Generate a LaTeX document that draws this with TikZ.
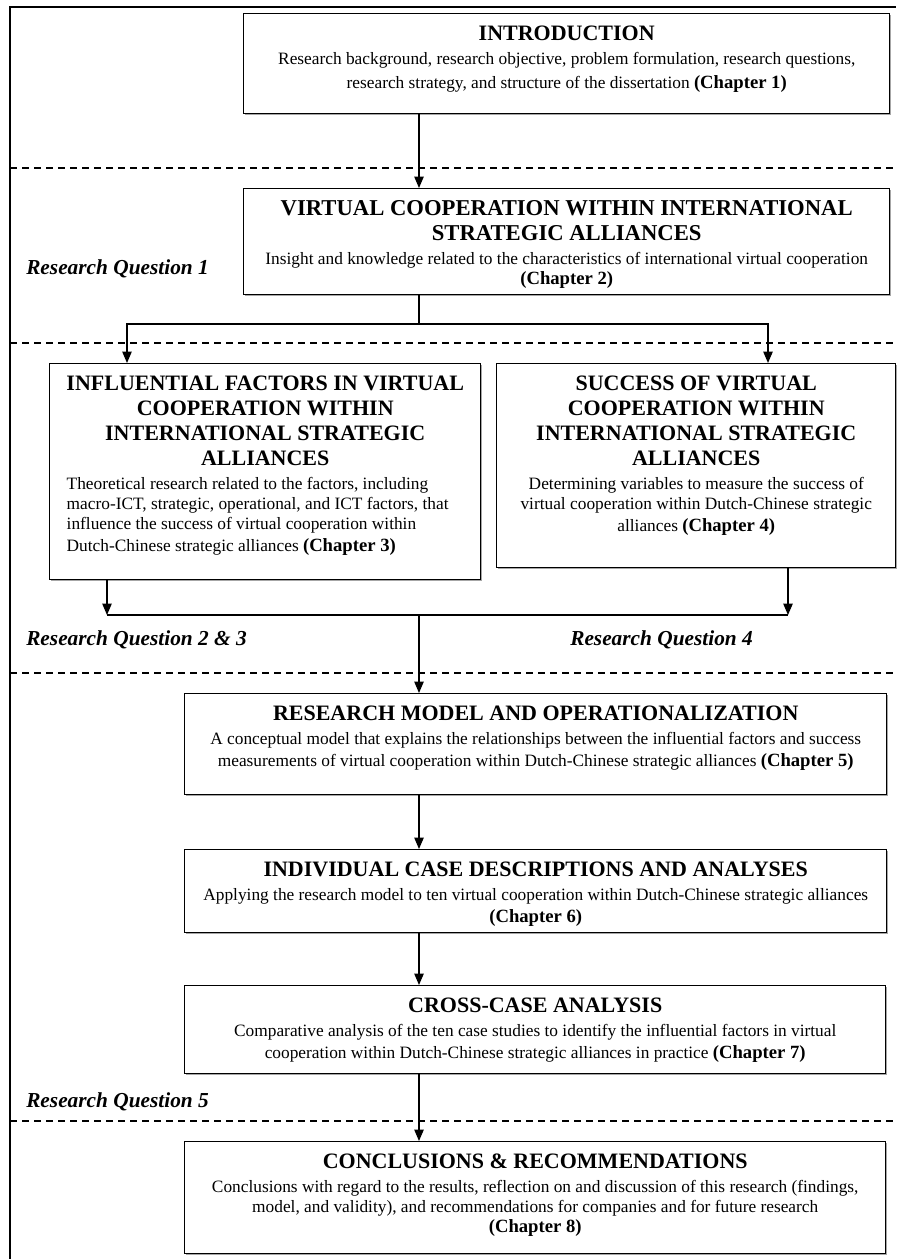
\documentclass[tikz,border=0pt]{standalone}
\usepackage{fontspec}
\setmainfont{Liberation Serif}
\usetikzlibrary{arrows.meta, shadows}

\newcommand{\ttl}{\fontsize{16.5}{18.75}\selectfont\bfseries}
\newcommand{\chap}[1]{{\fontsize{14}{15}\selectfont\bfseries #1}}
% box text sits at the top of a fixed size box
\newcommand{\stagetext}[3]{\begin{minipage}[c][#2][t]{#1}\centering\vspace*{9pt}#3\end{minipage}}

\begin{document}
\begin{tikzpicture}[
    x=0.75pt, y=-0.75pt,
    stage/.style={draw, fill=white, line width=1.1pt, inner sep=0pt, anchor=north west,
                  drop shadow={shadow xshift=1pt, shadow yshift=-1pt, fill=gray!70, opacity=1},
                  font=\fontsize{13}{15}\selectfont},
    arrow/.style={-{Triangle[length=8.5pt,width=7pt]}, line width=1pt},
    link/.style={line width=1pt},
    divider/.style={dash pattern=on 5.5pt off 3.5pt, line width=0.9pt},
    rq/.style={font=\fontsize{16}{18}\selectfont\bfseries\itshape, anchor=west, inner sep=0pt}
  ]
    \useasboundingbox (0,0) rectangle (896,1259);

    % frame and phase borders
    \draw[line width=1.1pt] (10,1259) -- (10,7) -- (896,7);
    \foreach \y in {168,343,673,1121}
      \draw[divider] (10,\y) -- (896,\y);

    \node[stage] (intro) at (243,13) {\stagetext{484.5pt}{75pt}{%
      {\ttl INTRODUCTION\par}\vspace{3pt}
      Research background, research objective, problem formulation, research questions,\\[3.5pt]
      research strategy, and structure of the dissertation \chap{(Chapter 1)}}};

    \node[stage] (virt) at (243,188) {\stagetext{484.5pt}{79.5pt}{%
      {\fontsize{17}{18.75}\selectfont\bfseries VIRTUAL COOPERATION WITHIN INTERNATIONAL\\ STRATEGIC ALLIANCES\par}\vspace{3pt}
      Insight and knowledge related to the characteristics of international virtual cooperation\\
      \chap{(Chapter 2)}}};

    \node[stage] (infl) at (49,363) {\stagetext{323.25pt}{162pt}{%
      {\ttl INFLUENTIAL FACTORS IN VIRTUAL\\ COOPERATION WITHIN\\ INTERNATIONAL STRATEGIC\\ ALLIANCES\par}\vspace{3pt}
      {\raggedright\leftskip=12.75pt
      Theoretical research related to the factors, including\\
      macro-ICT, strategic, operational, and ICT factors, that\\
      influence the success of virtual cooperation within\\[2pt]
      Dutch-Chinese strategic alliances \chap{(Chapter 3)}\par}}};

    \node[stage] (succ) at (496,363) {\stagetext{299.25pt}{153pt}{%
      {\ttl SUCCESS OF VIRTUAL\\ COOPERATION WITHIN\\ INTERNATIONAL STRATEGIC\\ ALLIANCES\par}\vspace{3pt}
      Determining variables to measure the success of\\
      virtual cooperation within Dutch-Chinese strategic\\[2pt]
      alliances \chap{(Chapter 4)}}};

    \node[stage] (model) at (184,693) {\stagetext{526.5pt}{75.75pt}{%
      {\ttl RESEARCH MODEL AND OPERATIONALIZATION\par}\vspace{3pt}
      A conceptual model that explains the relationships between the influential factors and success\\[2pt]
      measurements of virtual cooperation within Dutch-Chinese strategic alliances \chap{(Chapter 5)}}};

    \node[stage] (indiv) at (184,849) {\stagetext{526.5pt}{62.25pt}{%
      {\ttl INDIVIDUAL CASE DESCRIPTIONS AND ANALYSES\par}\vspace{3pt}
      Applying the research model to ten virtual cooperation within Dutch-Chinese strategic alliances\\[2pt]
      \chap{(Chapter 6)}}};

    \node[stage] (cross) at (184,985) {\stagetext{525.75pt}{66pt}{%
      {\ttl CROSS-CASE ANALYSIS\par}\vspace{3pt}
      Comparative analysis of the ten case studies to identify the influential factors in virtual\\[2pt]
      cooperation within Dutch-Chinese strategic alliances in practice \chap{(Chapter 7)}}};

    \node[stage] (concl) at (184,1141) {\stagetext{525.75pt}{84pt}{%
      {\ttl CONCLUSIONS \& RECOMMENDATIONS\par}\vspace{3pt}
      Conclusions with regard to the results, reflection on and discussion of this research (findings,\\
      model, and validity), and recommendations for companies and for future research\\
      \chap{(Chapter 8)}}};

    % research questions
    \node[rq] (rq1)  at (26,269)  {Research Question 1};
    \node[rq] (rq23) at (26,640)  {Research Question 2 \& 3};
    \node[rq] (rq4)  at (570,640) {Research Question 4};
    \node[rq] (rq5)  at (26,1102) {Research Question 5};

    % connectors
    \coordinate (spine) at (419,0);
    \coordinate (fork)  at (419,324);
    \coordinate (fl)    at (127,324);
    \coordinate (fr)    at (768,324);
    \coordinate (join)  at (419,615);
    \coordinate (jl)    at (107,615);
    \coordinate (jr)    at (788,615);

    \draw[arrow] (intro.south -| spine) -- (virt.north -| spine);
    \draw[link]  (virt.south -| spine) -- (fork);
    \draw[arrow] (fork) -| (infl.north -| fl);
    \draw[arrow] (fork) -| (succ.north -| fr);
    \draw[arrow] (infl.south -| jl) -- (jl);
    \draw[arrow] (succ.south -| jr) -- (jr);
    \draw[link]  (jl) -- (jr);
    \draw[arrow] (join) -- (model.north -| spine);
    \draw[arrow] (model.south -| spine) -- (indiv.north -| spine);
    \draw[arrow] (indiv.south -| spine) -- (cross.north -| spine);
    \draw[arrow] (cross.south -| spine) -- (concl.north -| spine);
  \end{tikzpicture}
\end{document}
